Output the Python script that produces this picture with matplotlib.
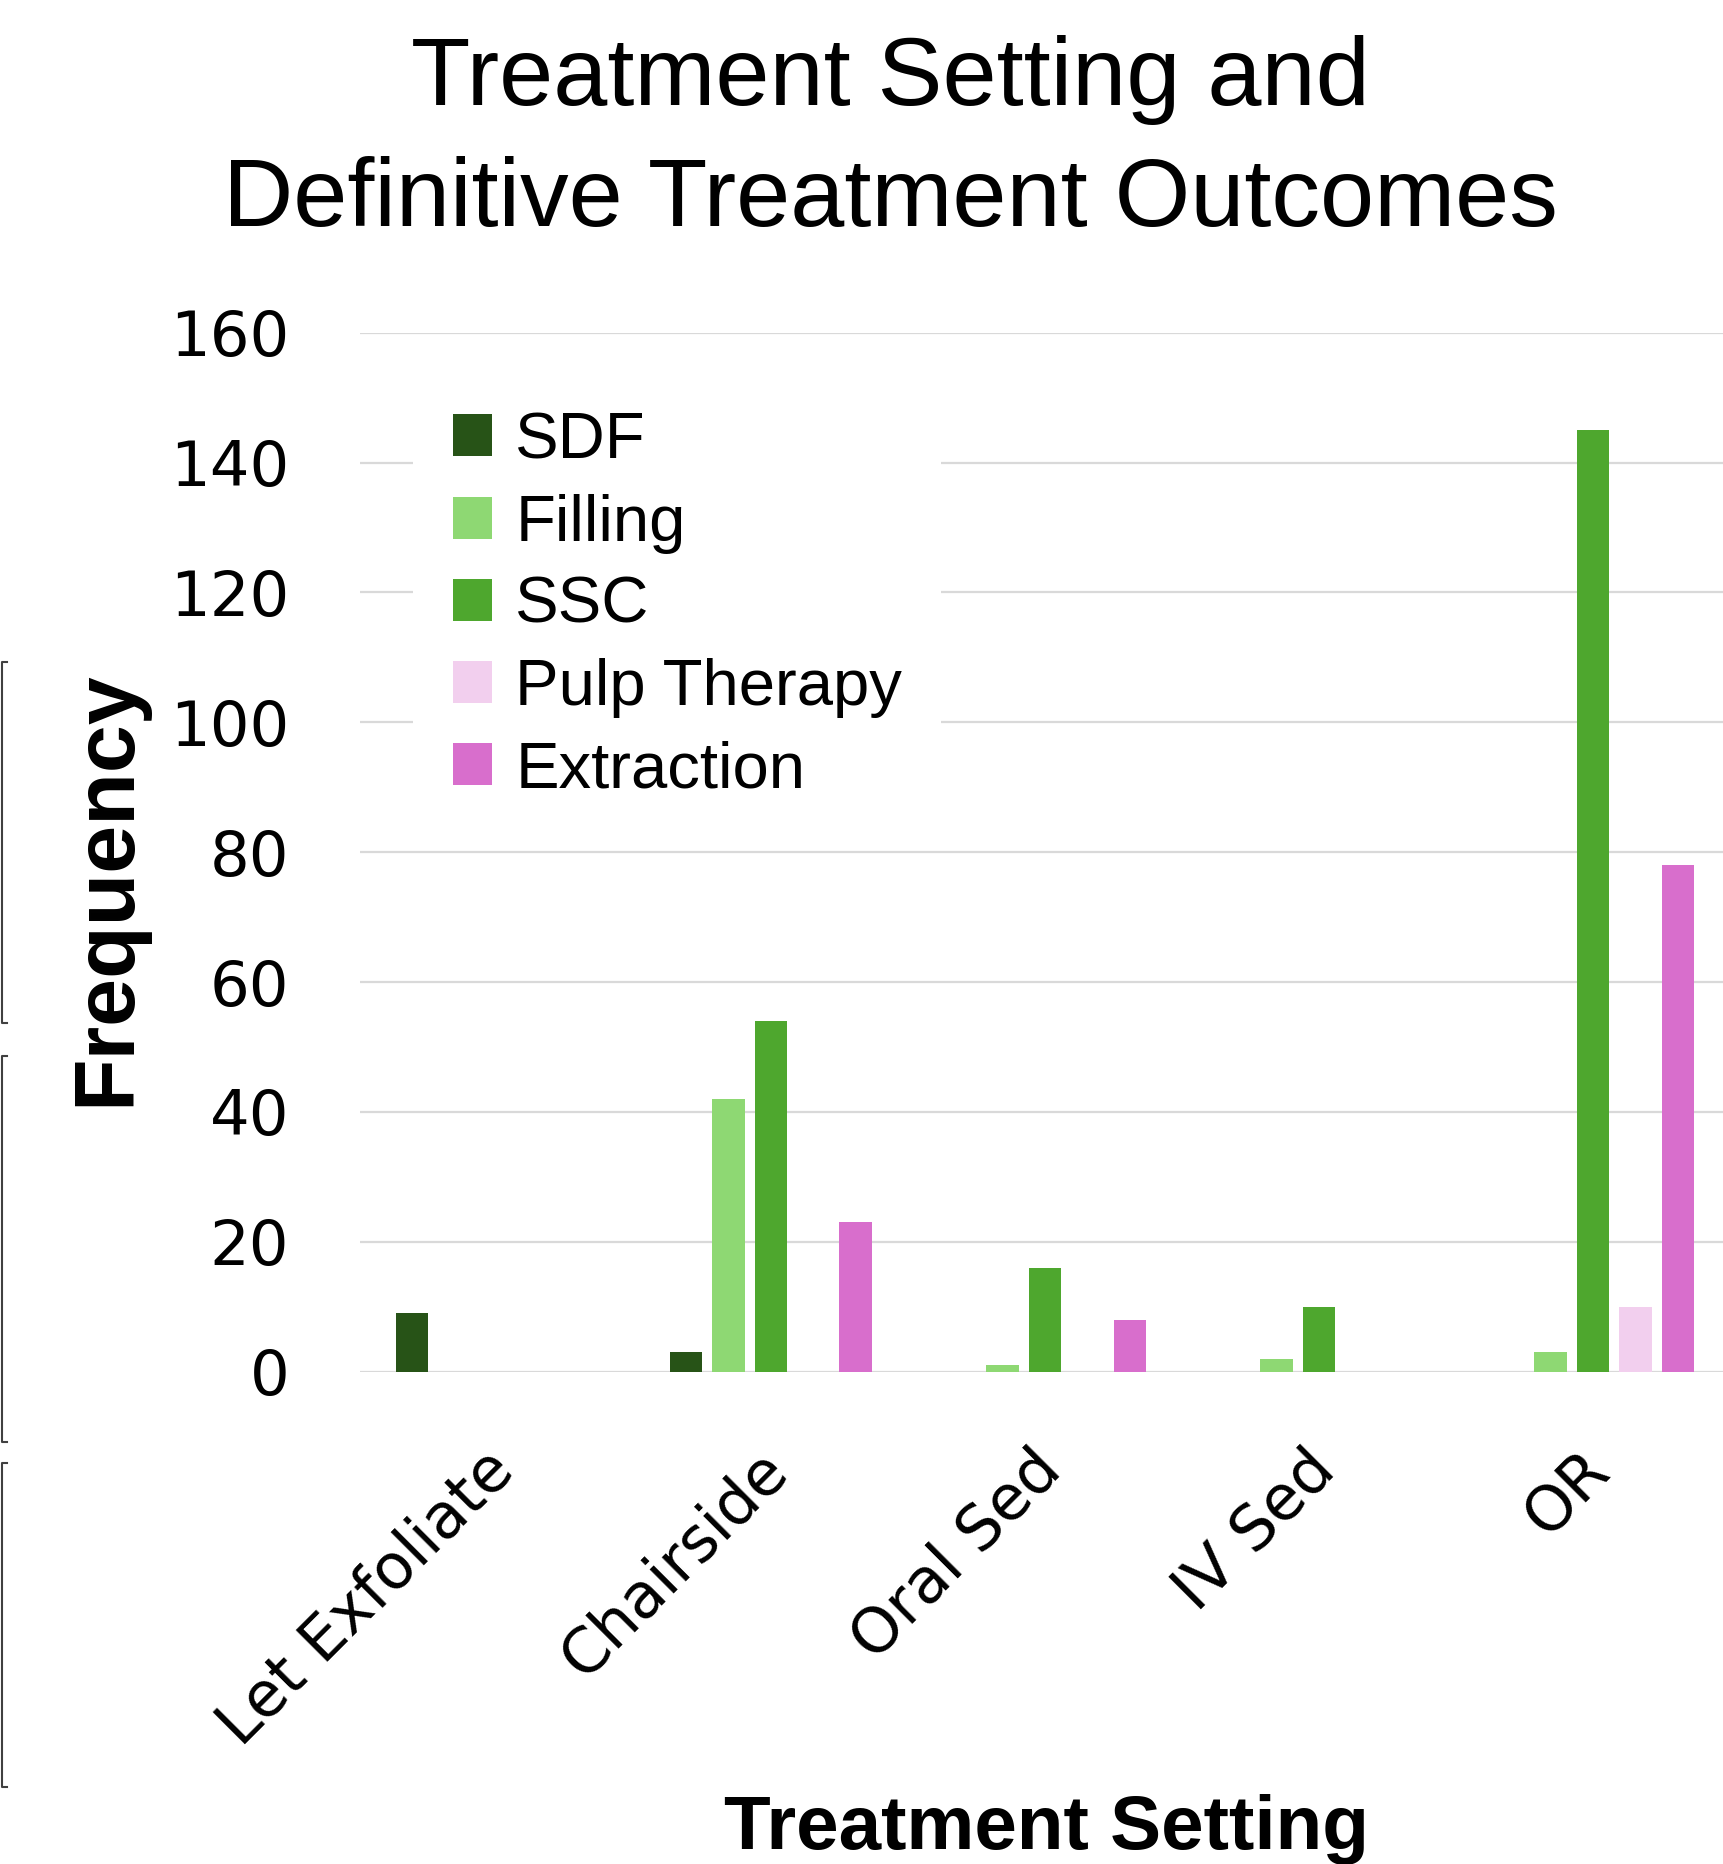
import numpy as np
import matplotlib
matplotlib.use("Agg")
import matplotlib.pyplot as plt
from matplotlib.lines import Line2D
from matplotlib.transforms import ScaledTranslation

# data
settings = ["Let Exfoliate", "Chairside", "Oral Sed", "IV Sed", "OR"]
outcomes = ["SDF", "Filling", "SSC", "Pulp Therapy", "Extraction"]
sdf = [9, 3, 0, 0, 0]
filling = [0, 42, 1, 2, 3]
ssc = [0, 54, 16, 10, 145]
pulp = [0, 0, 0, 0, 10]
extraction = [0, 23, 8, 0, 78]
colors = ["#275317", "#8ED873", "#4EA72E", "#F2CFEE", "#D86ECC"]

series = [sdf, filling, ssc, pulp, extraction]

fig = plt.figure(figsize=(17.24, 18.64), dpi=100)
ax = fig.add_axes([0.2088, 0.2641, 0.7947, 0.5574])

x = np.arange(len(settings))
step = 0.155
width = 0.12
for i, (vals, name, col) in enumerate(zip(series, outcomes, colors)):
    # skip zero bars so they do not show as slivers
    vals = np.array(vals, dtype=float)
    mask = vals > 0
    ax.bar(x[mask] + (i - 2) * step, vals[mask], width=width, color=col,
           label=name, zorder=2)

ax.set_xlim(-0.5, len(settings) - 0.5)
ax.set_ylim(0, 160)
ax.set_yticks(np.arange(0, 161, 20))
ax.yaxis.grid(True, color="#d9d9d9", lw=1.6)
ax.set_axisbelow(True)
for s in ax.spines.values():
    s.set_visible(False)

ax.tick_params(axis="y", length=0, pad=51, labelsize=45)
ax.tick_params(axis="x", length=0, pad=49)
ax.set_xticks(x)
ax.set_xticklabels(settings, rotation=45, ha="right", va="top",
                   rotation_mode="anchor", fontsize=45)
for lab in ax.get_xticklabels():
    lab.set_transform(lab.get_transform() + ScaledTranslation(-0.14, 0, fig.dpi_scale_trans))
for lab in ax.get_xticklabels() + ax.get_yticklabels():
    lab.set_family("DejaVu Sans")

leg = ax.legend(loc="upper left", bbox_to_anchor=(0.039, 0.962),
                borderaxespad=0, frameon=True, facecolor="white",
                edgecolor="none", framealpha=1, fancybox=False,
                prop={"family": "Liberation Sans", "size": 47},
                handlelength=0.61, handleheight=0.61, handletextpad=0.35,
                labelspacing=0.34, borderpad=0.6)

fig.text(0.5166, 0.9437, "Treatment Setting and", ha="center", va="baseline",
         fontsize=70, family="Liberation Sans")
fig.text(0.5166, 0.8787, "Definitive Treatment Outcomes", ha="center",
         va="baseline", fontsize=70, family="Liberation Sans")

fig.text(0.607, 0.008, "Treatment Setting", ha="center", va="baseline",
         fontsize=55, fontweight="bold", family="Liberation Sans")
fig.text(0.062, 0.5236, "Frequency", rotation=90, ha="center", va="center",
         fontsize=62, fontweight="bold",
         family=["Liberation Sans Narrow", "DejaVu Sans Condensed", "Liberation Sans"])

# cropped border brackets at the left edge
brackets = [(0.6449, 0.4512), (0.4335, 0.2264), (0.2151, 0.0413)]
for top, bot in brackets:
    fig.add_artist(Line2D([0.004, 0.0012, 0.0012, 0.004], [top, top, bot, bot],
                          transform=fig.transFigure, color="#404040", lw=1.5))

fig.savefig("out.png", dpi=100)
